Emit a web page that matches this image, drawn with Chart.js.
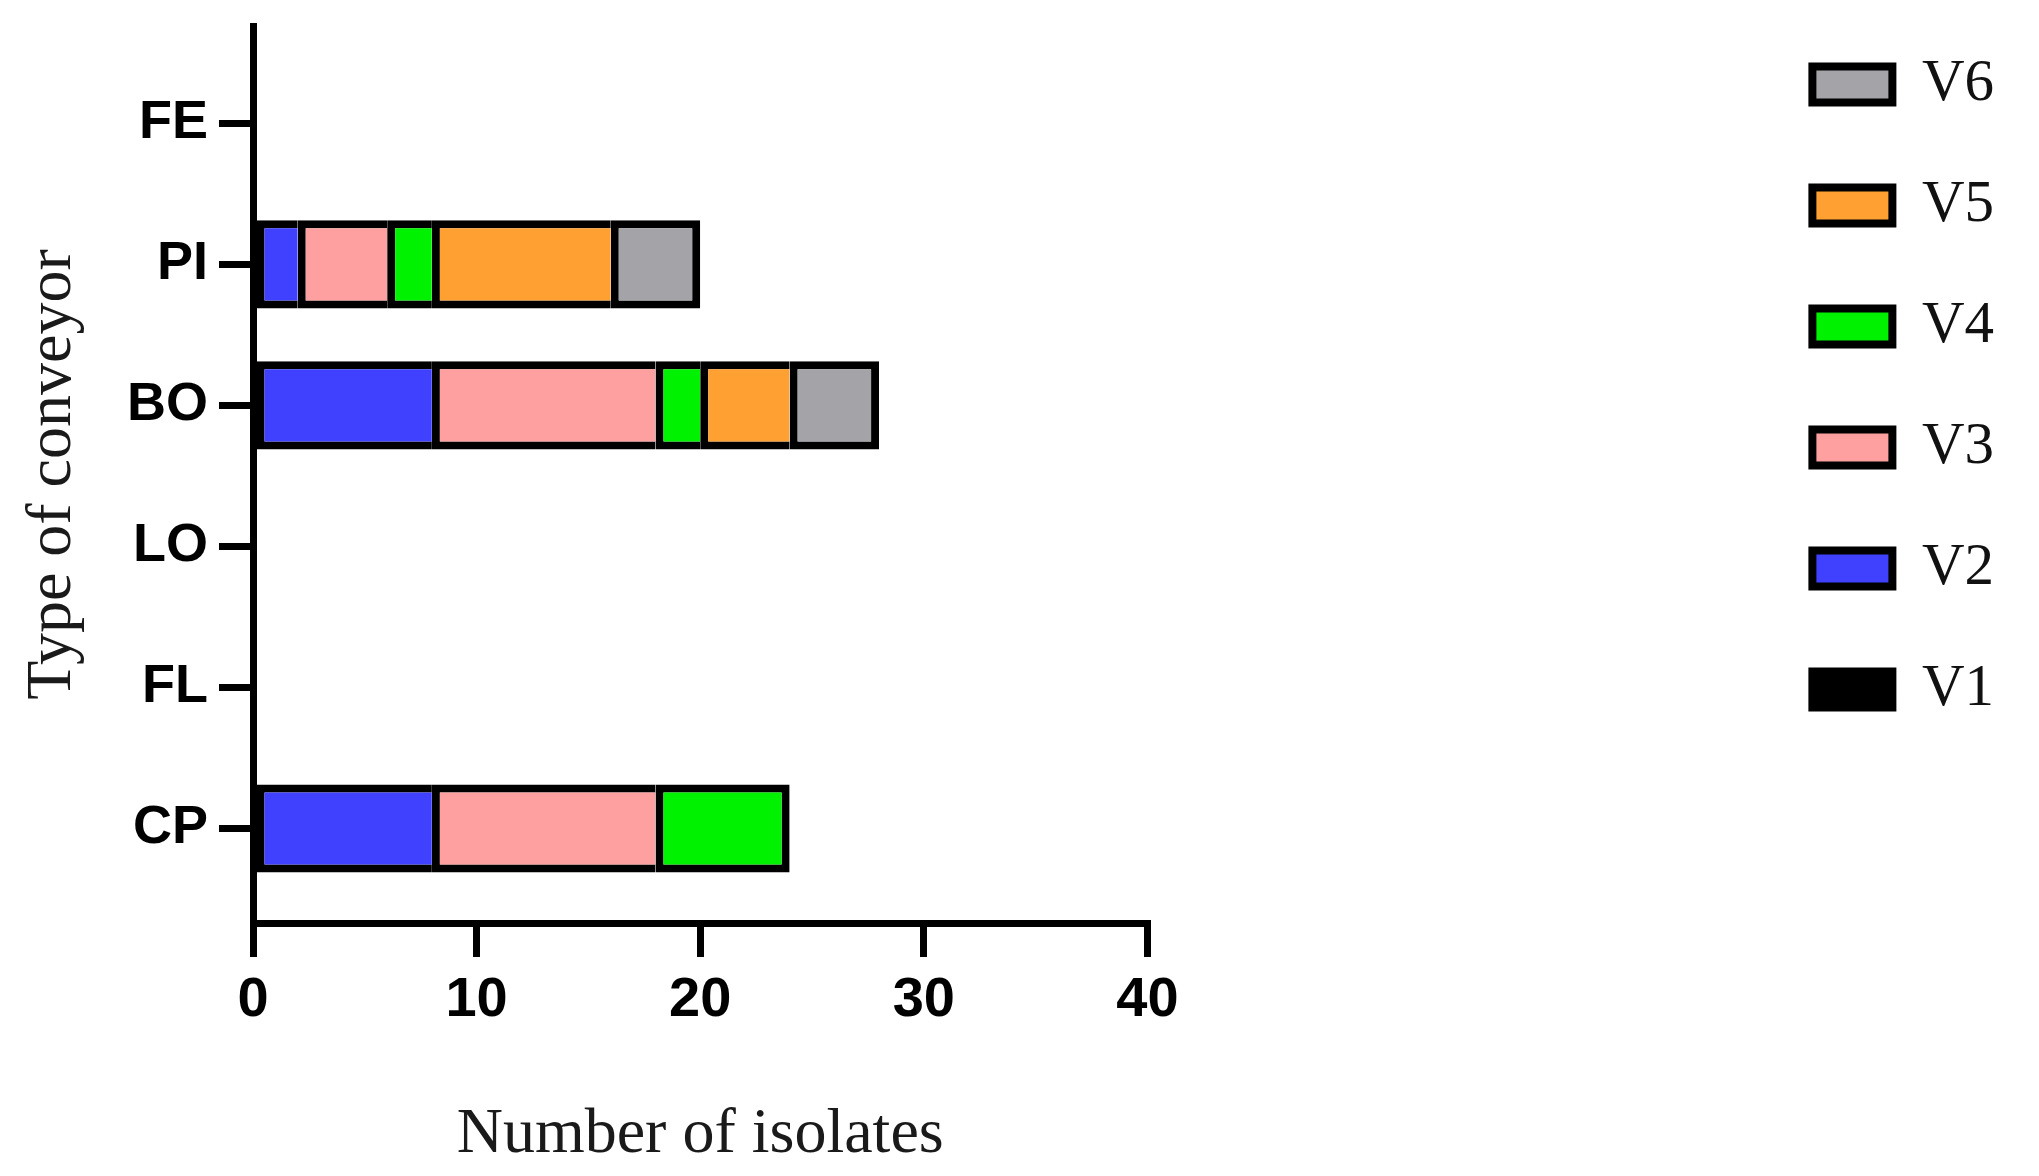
<!DOCTYPE html>
<html lang="en">
<head>
<meta charset="UTF-8">
<title>Type of conveyor</title>
<script src="https://cdn.jsdelivr.net/npm/chart.js"></script>
<style>
  html, body { margin: 0; padding: 0; background: #fff; }
  #wrap { width: 2039px; height: 1176px; }
</style>
</head>
<body>
<div id="wrap"><canvas id="isolates-chart" width="2039" height="1176"></canvas></div>
<script>
// categories, listed top to bottom
const conveyors = ['FE', 'PI', 'BO', 'LO', 'FL', 'CP'];
const seriesNames = ['V1', 'V2', 'V3', 'V4', 'V5', 'V6'];

// number of isolates per conveyor, one list per series
const v1 = [0, 0, 0, 0, 0, 0];
const v2 = [0, 2, 8, 0, 0, 8];
const v3 = [0, 4, 10, 0, 0, 10];
const v4 = [0, 2, 2, 0, 0, 6];
const v5 = [0, 8, 4, 0, 0, 0];
const v6 = [0, 4, 4, 0, 0, 0];

const xTicks = [0, 10, 20, 30, 40];

const allSeries = [v1, v2, v3, v4, v5, v6];
const fills = ['#000000', '#4040ff', '#ffa0a0', '#00f200', '#ffa033', '#a4a4a8'];
const EDGE = 8;

// black outline round the whole stack, and one divider between segments
function segmentBorder(ctx) {
  if (ctx.dataIndex === undefined) return EDGE;
  const i = ctx.dataIndex;
  const more = allSeries.slice(ctx.datasetIndex + 1).some(s => s[i] > 0);
  return { top: EDGE, bottom: EDGE, left: EDGE, right: more ? 0 : EDGE };
}

const datasets = seriesNames.map((name, k) => ({
  label: name,
  data: allSeries[k],
  backgroundColor: fills[k],
  borderColor: '#000',
  borderWidth: segmentBorder,
  borderSkipped: false,
  barPercentage: 0.625,
  categoryPercentage: 1
}));

const serif = '"Liberation Serif", "Times New Roman", serif';
const sans = '"Liberation Sans", Arial, sans-serif';

new Chart(document.getElementById('isolates-chart'), {
  type: 'bar',
  data: { labels: conveyors, datasets: datasets },
  options: {
    indexAxis: 'y',
    responsive: false,
    animation: false,
    layout: { padding: { left: 0, right: 35, top: -7, bottom: 0 } },
    scales: {
      y: {
        type: 'category',
        stacked: true,
        offset: true,
        // a little empty room above FE and below CP, like the original
        afterBuildTicks: (scale) => {
          scale._startValue -= 0.19;
          scale._valueRange += 0.36;
        },
        afterFit: (scale) => {
          scale.width = 253;
          scale.paddingTop = 0;
          scale.paddingBottom = 0;
        },
        grid: { display: true, offset: false, drawOnChartArea: false, drawTicks: true,
                tickLength: 34, lineWidth: 7, color: '#000' },
        border: { display: true, width: 7, color: '#000' },
        ticks: { color: '#000', padding: 11, font: { family: sans, size: 54, weight: 'bold' } },
        title: { display: true, text: 'Type of conveyor', color: '#1a1a1a',
                 padding: { top: 15, bottom: 0 }, font: { family: serif, size: 64 } }
      },
      spacer: {
        type: 'linear',
        position: 'right',
        display: true,
        grid: { display: false },
        border: { display: false },
        ticks: { display: false },
        afterFit: (scale) => { scale.width = 603; }
      },
      x: {
        type: 'linear',
        stacked: true,
        min: xTicks[0],
        max: xTicks[xTicks.length - 1],
        afterFit: (scale) => { scale.height = 253; },
        grid: { display: true, drawOnChartArea: false, drawTicks: true,
                tickLength: 34, lineWidth: 7, color: '#000' },
        border: { display: true, width: 7, color: '#000' },
        ticks: { stepSize: xTicks[1] - xTicks[0], color: '#000', padding: 10,
                 font: { family: '"Liberation Sans Narrow", ' + sans, size: 56, weight: 'bold' } },
        title: { display: true, text: 'Number of isolates', color: '#1a1a1a',
                 padding: { top: 0, bottom: 2 }, font: { family: serif, size: 64 } }
      }
    },
    plugins: {
      // empty title only keeps the plot 26px below the top edge
      title: { display: true, text: '', fullSize: false,
               font: { size: 10, lineHeight: 1 }, padding: { top: 23, bottom: 0 } },
      legend: {
        position: 'right',
        align: 'start',
        reverse: true,
        labels: { boxWidth: 80, boxHeight: 36, padding: 62, color: '#111',
                  font: { family: serif, size: 59 } }
      },
      tooltip: { enabled: false }
    }
  }
});
</script>
</body>
</html>
